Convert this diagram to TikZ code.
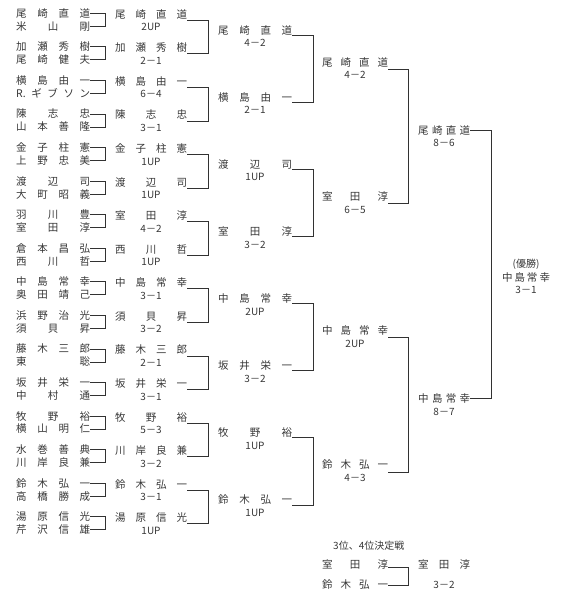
\documentclass[tikz,border=0pt]{standalone}
\usepackage{fontspec}
\setmainfont{Noto Sans CJK JP}
\usepackage{tikz}
\usetikzlibrary{calc}
\definecolor{inkgray}{RGB}{55,55,55}
\definecolor{linegray}{RGB}{50,50,50}
\newcommand{\spreadname}[2]{\makebox[#1][s]{#2}}
\frenchspacing

\begin{document}
\begin{tikzpicture}[
  x=1pt, y=-1pt,
  player/.style={
    anchor=west, inner sep=0pt,
    font=\fontsize{10.5}{12}\selectfont, text=inkgray
  },
  score/.style={
    inner sep=0pt,
    font=\fontsize{10}{11}\selectfont, text=inkgray
  },
  bracket/.style={draw=linegray, line width=0.75pt}
]
\useasboundingbox (0,0) rectangle (566,600);

%% ============================================================
%%  ROUND 1 -- pairings
%% ============================================================
\foreach \n/\a/\b in {
    1/尾 崎 直 道/米 山 剛,
    2/加 瀬 秀 樹/尾 崎 健 夫,
    3/横 島 由 一/R. ギ ブ ソ ン,
    4/陳 志 忠/山 本 善 隆,
    5/金 子 柱 憲/上 野 忠 美,
    6/渡 辺 司/大 町 昭 義,
    7/羽 川 豊/室 田 淳,
    8/倉 本 昌 弘/西 川 哲,
    9/中 島 常 幸/奥 田 靖 己,
    10/浜 野 治 光/須 貝 昇,
    11/藤 木 三 郎/東 聡,
    12/坂 井 栄 一/中 村 通,
    13/牧 野 裕/横 山 明 仁,
    14/水 巻 善 典/川 岸 良 兼,
    15/鈴 木 弘 一/高 橋 勝 成,
    16/湯 原 信 光/芹 沢 信 雄}{
  \pgfmathsetmacro\ya{13.3+33.56*(\n-1)}
  \node[player] (a\n) at (16,\ya) {\spreadname{74pt}{\a}};
  \node[player] (b\n) at (16,\ya+13) {\spreadname{74pt}{\b}};
  \draw[bracket] (a\n.east) -- ++(15,0) |- (b\n.east);
}

%% ============================================================
%%  ROUND 2 -- winners of round 1
%% ============================================================
\foreach \n/\w/\s in {
    1/尾 崎 直 道/2UP,   2/加 瀬 秀 樹/2－1,
    3/横 島 由 一/6－4,  4/陳 志 忠/3－1,
    5/金 子 柱 憲/1UP,   6/渡 辺 司/1UP,
    7/室 田 淳/4－2,     8/西 川 哲/1UP,
    9/中 島 常 幸/3－1,  10/須 貝 昇/3－2,
    11/藤 木 三 郎/2－1, 12/坂 井 栄 一/3－1,
    13/牧 野 裕/5－3,    14/川 岸 良 兼/3－2,
    15/鈴 木 弘 一/3－1, 16/湯 原 信 光/1UP}{
  \pgfmathsetmacro\ya{13.3+33.56*(\n-1)}
  \node[player] (w\n) at (115,\ya+1) {\spreadname{72pt}{\w}};
  \node[score] (ws\n) at (151,\ya+14) {\s};
}
\foreach \u/\v in {1/2, 3/4, 5/6, 7/8, 9/10, 11/12, 13/14, 15/16}
  \draw[bracket] ([yshift=-6pt]w\u.east) -- ++(21,0) |- ([yshift=-6pt]w\v.east);

%% ============================================================
%%  ROUND 3
%% ============================================================
\foreach \k/\w/\s in {
    1/尾 崎 直 道/4－2, 2/横 島 由 一/2－1,
    3/渡 辺 司/1UP,     4/室 田 淳/3－2,
    5/中 島 常 幸/2UP,  6/坂 井 栄 一/3－2,
    7/牧 野 裕/1UP,     8/鈴 木 弘 一/1UP}{
  \pgfmathsetmacro\yc{30.1+67.12*(\k-1)}
  \node[player] (q\k) at (218,\yc) {\spreadname{74pt}{\w}};
  \node[score] (qs\k) at (255,\yc+13) {\s};
}
\foreach \u/\v in {1/2, 3/4, 5/6, 7/8}
  \draw[bracket] ([yshift=-5pt]q\u.east) -- ++(21,0) |- ([yshift=-5pt]q\v.east);

%% ============================================================
%%  SEMI FINALS
%% ============================================================
\foreach \j/\w/\s in {
    1/尾 崎 直 道/4－2, 2/室 田 淳/6－5,
    3/中 島 常 幸/2UP,  4/鈴 木 弘 一/4－3}{
  \pgfmathsetmacro\yd{62.2+134.24*(\j-1)}
  \node[player] (s\j) at (322,\yd) {\spreadname{66pt}{\w}};
  \node[score] (ss\j) at (355,\yd+13) {\s};
}
\draw[bracket] ([yshift=-7pt]s1.east) -- ++(19.5,0) |- ([yshift=-7pt]s2.east);
\draw[bracket] ([yshift=-7pt]s3.east) -- ++(19.5,0) |- ([yshift=-7pt]s4.east);

%% ============================================================
%%  FINAL
%% ============================================================
\node[player] (f1) at (418,130.3) {\spreadname{52pt}{尾 崎 直 道}};
\node[score] (fs1) at (444,143.3) {8－6};
\node[player] (f2) at (418,398.8) {\spreadname{52pt}{中 島 常 幸}};
\node[score] (fs2) at (444,411.8) {8－7};
\draw[bracket] (f1.east) -- ++(21,0) |- (f2.east);

%% Champion
\node[score] (title) at (526,264) {(優勝)};
\node[player, anchor=center] (champ) at (526,277) {\spreadname{48pt}{中 島 常 幸}};
\node[score] (champs) at (526,290) {3－1};

%% ============================================================
%%  3RD PLACE PLAYOFF
%% ============================================================
\node[score, anchor=west] (third) at (333,546) {3位、4位決定戦};
\node[player] (c1) at (322,565) {\spreadname{66pt}{室 田 淳}};
\node[player] (c2) at (322,585) {\spreadname{66pt}{鈴 木 弘 一}};
\draw[bracket] ([yshift=-2pt]c1.east) -- ++(20,0) |- (c2.east);
\node[player] (c3) at (418,565) {\spreadname{52pt}{室 田 淳}};
\node[score] (cs3) at (444,585) {3－2};

\end{tikzpicture}
\end{document}
